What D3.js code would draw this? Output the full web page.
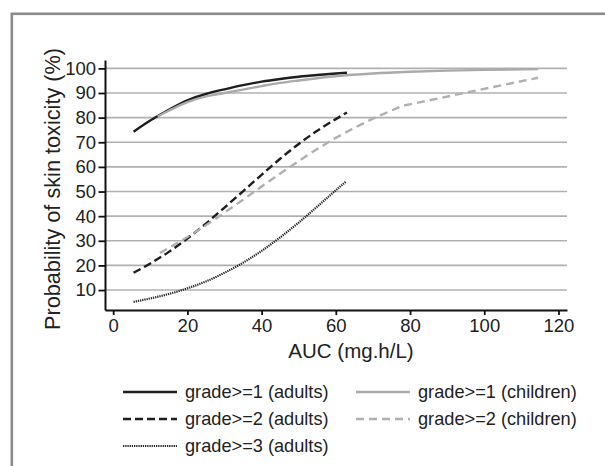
<!DOCTYPE html>
<html>
<head>
<meta charset="utf-8">
<script src="https://cdn.jsdelivr.net/npm/d3@7"></script>
<style>
  body { margin: 0; background: #fff; }
  svg { display: block; font-family: "Liberation Sans", Arial, Helvetica, sans-serif; }
</style>
</head>
<body>
<svg id="chart" width="605" height="466"></svg>
<script>
// values (AUC in mg.h/L, probability in %)
const adultsG1 = [[5.5,74.3],[10,78.8],[15,83.2],[20,87.0],[25,89.6],[30,91.5],[35,93.2],[40,94.6],[45,95.7],[50,96.6],[55,97.3],[60,97.9],[63,98.2]];
const childrenG1 = [[12,80.5],[15,82.8],[20,86.3],[25,88.6],[30,90.0],[35,91.4],[40,92.8],[45,94.1],[50,95.1],[55,96.0],[60,96.8],[70,97.9],[80,98.6],[90,99.1],[100,99.4],[114.5,99.7]];
const adultsG2 = [[5.5,17.0],[10,20.8],[15,25.5],[20,30.9],[25,37.0],[30,43.5],[35,50.1],[40,56.8],[45,63.3],[50,69.3],[55,74.7],[60,79.4],[63,82.1]];
const childrenG2 = [[12.6,25.1],[15,27.1],[20,31.5],[25,36.3],[30,41.4],[35,46.7],[40,52.0],[45,57.3],[50,62.4],[55,67.3],[60,71.8],[65,75.9],[70,79.6],[75,82.9],[78,84.8],[114.5,96.2]];
const adultsG3 = [[5.5,5.2],[10,6.6],[15,8.4],[20,10.7],[25,13.5],[30,17.0],[35,21.1],[40,25.9],[45,31.4],[50,37.4],[55,43.9],[60,50.5],[62.7,54.0]];

const xTicks = [0, 20, 40, 60, 80, 100, 120];
const yTicks = [10, 20, 30, 40, 50, 60, 70, 80, 90, 100];

const series = [
  {name: "grade>=1 (adults)", data: adultsG1, color: "#1e1e1e", dash: null, width: 2.4, curve: d3.curveMonotoneX},
  {name: "grade>=1 (children)", data: childrenG1, color: "#aaaaaa", dash: null, width: 2.4, curve: d3.curveMonotoneX},
  {name: "grade>=2 (adults)", data: adultsG2, color: "#1e1e1e", dash: "8,4", width: 2.4, curve: d3.curveMonotoneX},
  {name: "grade>=2 (children)", data: childrenG2, color: "#b0b0b0", dash: "8,5", width: 2.4, curve: d3.curveLinear},
  {name: "grade>=3 (adults)", data: adultsG3, color: "#2a2a2a", dash: "1.3,0.9", width: 2.2, curve: d3.curveMonotoneX}
];

const svg = d3.select("#chart");

// outer frame
svg.append("rect")
  .attr("x", 11.8).attr("y", 13.8)
  .attr("width", 700).attr("height", 600)
  .attr("fill", "none")
  .attr("stroke", "#8a8a8a")
  .attr("stroke-width", 2.6);

const xScale = d3.scaleLinear().domain([-2.2, 122.3]).range([105, 567]);
const yScale = d3.scaleLinear().domain([1.9, 103.4]).range([310, 60]);

// grid
svg.append("g").selectAll("line")
  .data(yTicks)
  .join("line")
  .attr("x1", xScale.range()[0]).attr("x2", xScale.range()[1])
  .attr("y1", d => yScale(d)).attr("y2", d => yScale(d))
  .attr("stroke", "#b0b0b0")
  .attr("stroke-width", 1.6);

// axes
const xAxisG = svg.append("g")
  .attr("transform", `translate(0,${yScale.range()[0]})`)
  .call(d3.axisBottom(xScale).tickValues(xTicks).tickSize(5).tickSizeOuter(0).tickPadding(4));

const yAxisG = svg.append("g")
  .attr("transform", `translate(${xScale.range()[0]},0)`)
  .call(d3.axisLeft(yScale).tickValues(yTicks).tickSize(6.5).tickSizeOuter(0).tickPadding(2.5));

[xAxisG, yAxisG].forEach(g => {
  g.select(".domain").attr("stroke", "#111").attr("stroke-width", 2);
  g.selectAll(".tick line").attr("stroke", "#111").attr("stroke-width", 1.8);
  g.selectAll(".tick text")
    .attr("fill", "#222")
    .attr("font-size", "18.5px")
    .attr("font-family", "'Liberation Sans', Arial, sans-serif");
});

// axis titles
svg.append("text")
  .attr("x", 351).attr("y", 358)
  .attr("text-anchor", "middle")
  .attr("font-size", "20.5px")
  .attr("fill", "#222")
  .text("AUC (mg.h/L)");

svg.append("text")
  .attr("transform", "translate(52,189) rotate(-90)")
  .attr("text-anchor", "middle")
  .attr("dominant-baseline", "central")
  .attr("font-size", "21.7px")
  .attr("fill", "#222")
  .text("Probability of skin toxicity (%)");

// curves
svg.append("g").selectAll("path")
  .data(series)
  .join("path")
  .attr("d", d => d3.line()
    .x(p => xScale(p[0]))
    .y(p => yScale(p[1]))
    .curve(d.curve)(d.data))
  .attr("fill", "none")
  .attr("stroke", d => d.color)
  .attr("stroke-width", d => d.width)
  .attr("stroke-dasharray", d => d.dash);

// legend
const legendPos = [[123, 392], [356, 392], [123, 419], [356, 419], [123, 446]];

const legend = svg.append("g").selectAll("g")
  .data(series)
  .join("g")
  .attr("transform", (d, i) => `translate(${legendPos[i][0]},${legendPos[i][1]})`);

legend.append("line")
  .attr("x1", 0).attr("x2", 54)
  .attr("stroke", d => d.color)
  .attr("stroke-width", d => d.width)
  .attr("stroke-dasharray", d => d.dash);

legend.append("text")
  .attr("x", 62).attr("y", 0)
  .attr("dominant-baseline", "central")
  .attr("font-size", "18.2px")
  .attr("fill", "#222")
  .text(d => d.name);
</script>
</body>
</html>
